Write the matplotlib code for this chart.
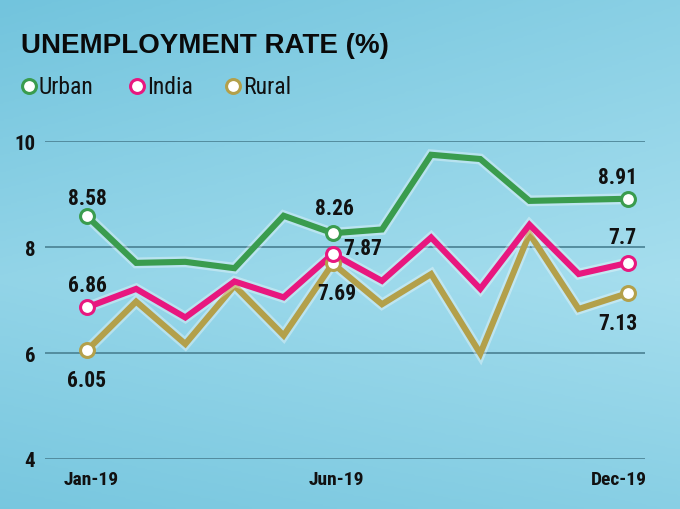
import numpy as np
import matplotlib as mpl
mpl.use('Agg')
import matplotlib.pyplot as plt
from matplotlib import font_manager as fm
from matplotlib.colors import LinearSegmentedColormap
import matplotlib.transforms as mtrans

# pick a narrow font if one is around
names = {f.name for f in fm.fontManager.ttflist}
narrow = [f.name for f in fm.fontManager.ttflist
          if str(f.stretch) in ('condensed', 'semi-condensed', 'extra-condensed', '75', '87')]
pick = None
for n in ['Liberation Sans Narrow', 'DejaVu Sans Condensed', 'Roboto Condensed'] + narrow:
    if n in names:
        pick = n
        break
if pick is None:
    pick = 'Roboto'
plt.rcParams['font.family'] = [pick, 'DejaVu Sans']

months = ['Jan-19', 'Feb-19', 'Mar-19', 'Apr-19', 'May-19', 'Jun-19',
          'Jul-19', 'Aug-19', 'Sep-19', 'Oct-19', 'Nov-19', 'Dec-19']
urban = [8.58, 7.70, 7.72, 7.60, 8.59, 8.26, 8.33, 9.74, 9.66, 8.87, 8.89, 8.91]
india = [6.86, 7.21, 6.67, 7.35, 7.05, 7.87, 7.36, 8.18, 7.21, 8.42, 7.49, 7.70]
rural = [6.05, 6.97, 6.17, 7.27, 6.33, 7.69, 6.92, 7.49, 5.99, 8.25, 6.83, 7.13]
tick_idx = [0, 5, 11]

green = '#3a9c4e'
pink = '#e8177f'
olive = '#b3a04a'

fig = plt.figure(figsize=(6.8, 5.1), dpi=100)

# background gradient
bg = fig.add_axes([0, 0, 1, 1], zorder=-10)
bg.axis('off')
yy, xx = np.mgrid[0:1:200j, 0:1:200j]
grad = 0.55 * (1 - np.abs(yy - 0.55) * 1.6) + 0.35 * xx * (1 - yy * 0.3)
cmap = LinearSegmentedColormap.from_list('bl', ['#72c4dd', '#a6deee'])
bg.imshow(grad, cmap=cmap, aspect='auto', extent=[0, 1, 0, 1])

ax = fig.add_axes([45 / 680, 1 - 460 / 510, 600 / 680, 318 / 510])
ax.set_facecolor('none')
x = np.arange(len(months))

for vals, col in [(rural, olive), (india, pink), (urban, green)]:
    ax.plot(x, vals, color='white', lw=7.8, alpha=0.35, solid_joinstyle='miter')
    ax.plot(x, vals, color=col, lw=4.4, solid_joinstyle='miter')
    xs = [x[i] for i in tick_idx]
    ys = [vals[i] for i in tick_idx]
    ax.plot(xs, ys, 'o', ms=10, mfc='white', mec=col, mew=2.2, zorder=5)

ax.set_ylim(4, 10)
ax.set_xlim(-0.854, 11.35)
ax.set_yticks([4, 6, 8, 10])
ax.set_xticks(tick_idx)
ax.set_xticklabels([months[i] for i in tick_idx])
ax.grid(axis='y', color='#4f8799', lw=1.3)
ax.set_axisbelow(True)
for s in ax.spines.values():
    s.set_visible(False)
ax.tick_params(length=0, labelsize=14, colors='#111111')
ax.tick_params(axis='y', pad=7, labelsize=15)
ax.tick_params(axis='x', pad=8)
for t in ax.get_xticklabels() + ax.get_yticklabels():
    t.set_fontweight('bold')
xl = ax.get_xticklabels()
xl[0].set_transform(xl[0].get_transform() + mtrans.ScaledTranslation(4 / 100, 0, fig.dpi_scale_trans))
xl[1].set_transform(xl[1].get_transform() + mtrans.ScaledTranslation(4 / 100, 0, fig.dpi_scale_trans))
xl[2].set_transform(xl[2].get_transform() + mtrans.ScaledTranslation(-9 / 100, 0, fig.dpi_scale_trans))

# value labels
labels = [
    (0, urban, 0, 18, 'center'),
    (0, india, 0, 22, 'center'),
    (0, rural, 0, -30, 'center'),
    (5, urban, 2, 25, 'center'),
    (5, india, 10, 6, 'left'),
    (5, rural, 4, -30, 'center'),
    (11, urban, -10, 22, 'center'),
    (11, india, -5, 26, 'center'),
    (11, rural, -10, -30, 'center'),
]
for i, vals, dx, dy, ha in labels:
    v = vals[i]
    txt = ('%.2f' % v).rstrip('0').rstrip('.')
    ax.annotate(txt, (x[i], v), xytext=(dx, dy), textcoords='offset pixels',
                ha=ha, va='center', fontsize=15.5, fontweight='bold',
                color='#111111', zorder=6)

fig.text(21 / 680, 1 - 46 / 510, 'UNEMPLOYMENT RATE (%)', fontsize=20,
         fontweight='bold', family=['Liberation Sans', 'DejaVu Sans'], color='#0a0a0a',
         va='center', ha='left')

leg = [('Urban', green, 29), ('India', pink, 137), ('Rural', olive, 233)]
for name, col, px in leg:
    fig.lines.append(plt.Line2D([px / 680], [1 - 87 / 510], marker='o', ms=10,
                                mfc='white', mec=col, mew=2.2,
                                transform=fig.transFigure))
    fig.text((px + 10) / 680, 1 - 87 / 510, name, fontsize=17,
             color='#111111', va='center', ha='left')

fig.savefig('out.png', dpi=100)
